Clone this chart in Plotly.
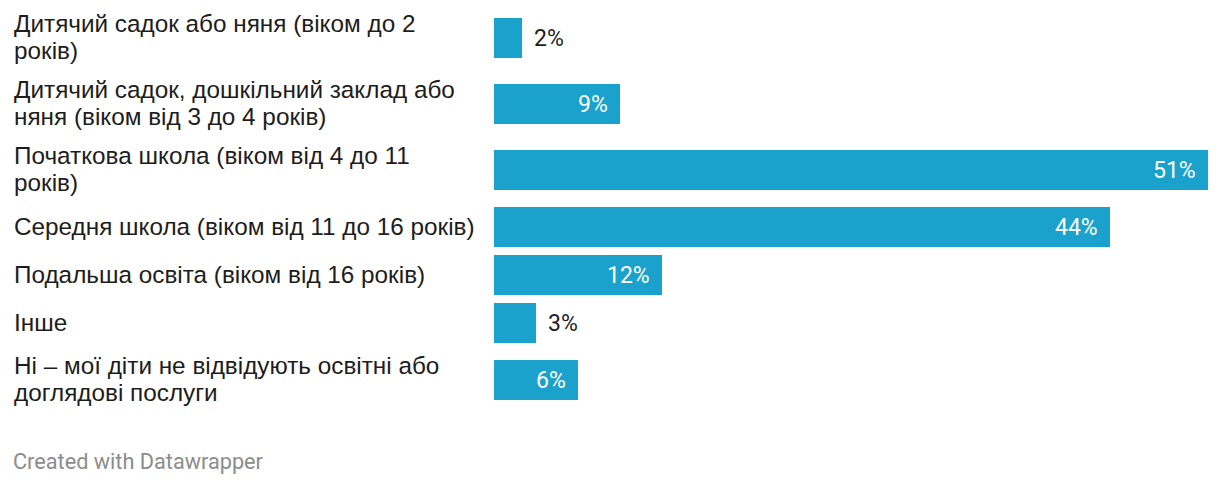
import plotly.graph_objects as go

categories = [
    "Дитячий садок або няня (віком до 2<br>років)",
    "Дитячий садок, дошкільний заклад або<br>няня (віком від 3 до 4 років)",
    "Початкова школа (віком від 4 до 11<br>років)",
    "Середня школа (віком від 11 до 16 років)",
    "Подальша освіта (віком від 16 років)",
    "Інше",
    "Ні – мої діти не відвідують освітні або<br>доглядові послуги",
]
values = [2, 9, 51, 44, 12, 3, 6]
value_labels = ["2%", "9%", "51%", "44%", "12%", "3%", "6%"]

W, H = 1220, 486
LEFT = 494
RIGHT_END = 1208
PLOT_H = 420
BAR_COLOR = "#1aa1cc"
TEXT_COLOR = "#1d1d1d"
LABEL_FONT = "Liberation Sans"
VALUE_FONT = "Roboto"
LINE_PITCH = 26.5

# layout: row heights derived from number of label lines
row_heights = [66 if "<br>" in c else 48 for c in categories]
centers = []
y = 5
for h in row_heights:
    centers.append(y + h / 2)
    y += h

fig = go.Figure()
fig.add_trace(go.Bar(
    x=values, y=centers, orientation="h", width=40,
    marker=dict(color=BAR_COLOR, line=dict(width=0)),
    hoverinfo="skip",
))

annotations = []
for cat, v, lab, c in zip(categories, values, value_labels, centers):
    lines = cat.split("<br>")
    n = len(lines)
    first = c - 1 - (n - 1) * LINE_PITCH / 2
    for i, ln in enumerate(lines):
        annotations.append(dict(
            x=0, xref="paper", xshift=-(LEFT - 12), y=first + i * LINE_PITCH, yref="y",
            text=ln, showarrow=False, xanchor="left", yanchor="middle", align="left",
            font=dict(family=LABEL_FONT, size=24.3, color=TEXT_COLOR),
        ))
    inside = v >= 5
    annotations.append(dict(
        x=v, xref="x", y=c, yref="y", text=lab, showarrow=False,
        xanchor="right" if inside else "left", yanchor="middle",
        xshift=-10 if inside else 10,
        font=dict(family=VALUE_FONT, size=23, color="#ffffff" if inside else TEXT_COLOR),
    ))

annotations.append(dict(
    x=0, xref="paper", xshift=-(LEFT - 11), y=-(461 - PLOT_H) / PLOT_H, yref="paper",
    text="Created with Datawrapper", showarrow=False, xanchor="left", yanchor="middle",
    font=dict(family=VALUE_FONT, size=21.7, color="#8c8c8c"),
))

fig.update_layout(
    width=W, height=H,
    margin=dict(l=LEFT, r=W - RIGHT_END, t=0, b=H - PLOT_H, pad=0),
    paper_bgcolor="white", plot_bgcolor="white",
    showlegend=False,
    xaxis=dict(range=[0, 51], visible=False, fixedrange=True),
    yaxis=dict(range=[PLOT_H, 0], visible=False, fixedrange=True),
    annotations=annotations,
    bargap=0,
)

fig.write_html("out.html", config={"displayModeBar": False})
